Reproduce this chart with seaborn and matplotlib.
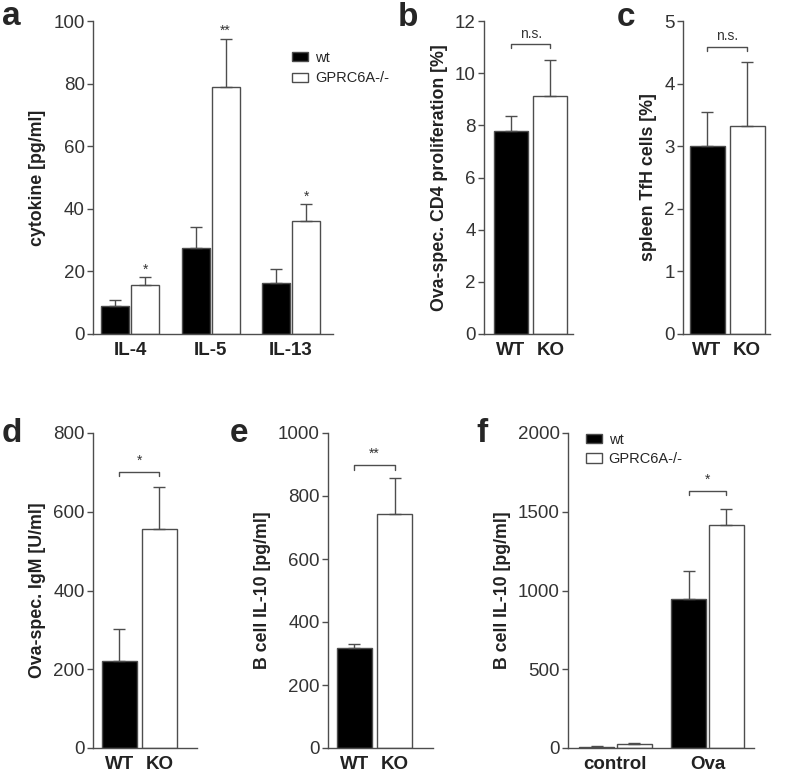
import numpy as np
import pandas as pd
import matplotlib
matplotlib.use("Agg")
import matplotlib.pyplot as plt
import seaborn as sns

# panel a: Th2 cytokines
cyto_names = ["IL-4", "IL-5", "IL-13"]
cyto_wt = [9.1, 27.6, 16.2]
cyto_wt_sem = [1.9, 6.5, 4.6]
cyto_ko = [15.7, 78.9, 36.0]
cyto_ko_sem = [2.5, 15.5, 5.6]
cyto_stars = ["*", "**", "*"]

# panels b-e: WT vs KO
genotypes = ["WT", "KO"]
prolif = [7.78, 9.13]
prolif_sem = [0.57, 1.37]
tfh = [3.01, 3.33]
tfh_sem = [0.54, 1.02]
igm = [221, 555]
igm_sem = [81, 107]
il10 = [319, 744]
il10_sem = [10, 113]

# panel f: B cell IL-10 after stimulation
stim_names = ["control", "Ova"]
bil10_wt = [6, 947]
bil10_wt_sem = [4, 175]
bil10_ko = [25, 1413]
bil10_ko_sem = [5, 107]

group_names = ["wt", "GPRC6A-/-"]

W, H = 787, 781
EDGE = "#4d4d4d"
TXT = "#222222"

sns.set_style("ticks")
plt.rcParams["font.family"] = ["Liberation Sans", "DejaVu Sans"]

fig = plt.figure(figsize=(W / 100, H / 100), dpi=100)


def px_axes(left, top, right, bottom):
    return fig.add_axes([left / W, 1 - bottom / H, (right - left) / W, (bottom - top) / H])


def style_axis(ax, ymax, step, ylabel, xlim, xnames):
    ax.set_xlim(*xlim)
    ax.set_ylim(0, ymax)
    ax.set_yticks(np.arange(0, ymax + step / 2, step))
    ax.set_xticks(range(len(xnames)))
    ax.set_xticklabels(xnames, fontweight="bold", fontsize=13.5, color=TXT)
    ax.set_xlabel("")
    ax.set_ylabel(ylabel, fontsize=12.8, fontweight="bold", labelpad=5, color=TXT)
    sns.despine(ax=ax)
    for s in ("left", "bottom"):
        ax.spines[s].set_color(EDGE)
        ax.spines[s].set_linewidth(1)
    ax.tick_params(axis="y", length=4, width=1, color=EDGE, labelsize=13.5, pad=2, labelcolor="#333333")
    ax.tick_params(axis="x", length=0, pad=6)


def bar_list(ax):
    bars = [p for c in ax.containers for p in c]
    return sorted(bars, key=lambda p: p.get_x())


def add_errors(ax, bars, sems):
    xs = [p.get_x() + p.get_width() / 2 for p in bars]
    ys = [p.get_height() for p in bars]
    ax.errorbar(xs, ys, yerr=[np.zeros(len(sems)), sems], fmt="none", ecolor=EDGE,
                elinewidth=1, capsize=4, capthick=1, zorder=3)


def bracket(ax, b0, b1, y, label, off):
    x0 = b0.get_x() + b0.get_width() / 2
    x1 = b1.get_x() + b1.get_width() / 2
    tick = ax.get_ylim()[1] * 0.013
    ax.plot([x0, x0, x1, x1], [y - tick, y, y, y - tick], color=EDGE, lw=1)
    ax.annotate(label, ((x0 + x1) / 2, y), xytext=(0, off), textcoords="offset points",
                ha="center", va="baseline", fontsize=10, color="#333333")


def two_bar_panel(box, vals, sems, ymax, step, ylabel, xlim, sig, sig_y, width=0.875):
    ax = px_axes(*box)
    df = pd.DataFrame({"genotype": genotypes, "value": vals})
    sns.barplot(data=df, x="genotype", y="value", hue="genotype", order=genotypes,
                hue_order=genotypes, palette=["black", "white"], edgecolor=EDGE,
                linewidth=1, width=width, errorbar=None, legend=False, ax=ax)
    bars = bar_list(ax)
    add_errors(ax, bars, sems)
    style_axis(ax, ymax, step, ylabel, xlim, genotypes)
    off = 4.5 if sig == "n.s." else 5.5
    bracket(ax, bars[0], bars[1], sig_y, sig, off)
    return ax


# ---- panel a
ax = px_axes(93, 21, 333, 334)
df_a = pd.DataFrame({"cytokine": cyto_names * 2,
                     "group": [group_names[0]] * 3 + [group_names[1]] * 3,
                     "value": cyto_wt + cyto_ko})
sns.barplot(data=df_a, x="cytokine", y="value", hue="group", order=cyto_names,
            hue_order=group_names, palette=["black", "white"], edgecolor=EDGE,
            linewidth=1, width=0.745, gap=0.07, errorbar=None, ax=ax)
bars = bar_list(ax)
sems = [s for pair in zip(cyto_wt_sem, cyto_ko_sem) for s in pair]
add_errors(ax, bars, sems)
style_axis(ax, 100, 20, "cytokine [pg/ml]", (-0.46, 2.52), cyto_names)
for i, star in enumerate(cyto_stars):
    b = bars[2 * i + 1]
    ax.annotate(star, (b.get_x() + b.get_width() / 2, cyto_ko[i] + cyto_ko_sem[i]),
                xytext=(0, 2.5), textcoords="offset points", ha="center",
                va="baseline", fontsize=10, color="#333333")
sns.move_legend(ax, "upper left", bbox_to_anchor=(0.83, 0.905), frameon=False, title=None,
                fontsize=10.5, borderpad=0, borderaxespad=0, handlelength=1.1,
                handleheight=0.6, handletextpad=0.45, labelspacing=0.45)

# ---- panels b-e
two_bar_panel((484, 21, 573, 334), prolif, prolif_sem, 12, 2,
              "Ova-spec. CD4 proliferation [%]", (-0.68, 1.57), "n.s.", 11.12, width=0.86)
two_bar_panel((683, 21, 770, 334), tfh, tfh_sem, 5, 1,
              "spleen TfH cells [%]", (-0.6, 1.575), "n.s.", 4.59)
two_bar_panel((93, 433, 197, 748), igm, igm_sem, 800, 200,
              "Ova-spec. IgM [U/ml]", (-0.66, 1.94), "*", 701)
two_bar_panel((328, 433, 433, 748), il10, il10_sem, 1000, 200,
              "B cell IL-10 [pg/ml]", (-0.66, 1.96), "**", 897)

# ---- panel f
ax = px_axes(568, 433, 754, 748)
df_f = pd.DataFrame({"stim": stim_names * 2,
                     "group": [group_names[0]] * 2 + [group_names[1]] * 2,
                     "value": bil10_wt + bil10_ko})
sns.barplot(data=df_f, x="stim", y="value", hue="group", order=stim_names,
            hue_order=group_names, palette=["black", "white"], edgecolor=EDGE,
            linewidth=1, width=0.815, gap=0.067, errorbar=None, ax=ax)
bars = bar_list(ax)
sems = [s for pair in zip(bil10_wt_sem, bil10_ko_sem) for s in pair]
add_errors(ax, bars, sems)
style_axis(ax, 2000, 500, "B cell IL-10 [pg/ml]", (-0.516, 1.505), stim_names)
bracket(ax, bars[2], bars[3], 1632, "*", 5.5)
sns.move_legend(ax, "upper left", bbox_to_anchor=(0.097, 1.0), frameon=False, title=None,
                fontsize=10.5, borderpad=0, borderaxespad=0, handlelength=1.1,
                handleheight=0.6, handletextpad=0.45, labelspacing=0.35)

# panel letters
for letter, x, y in [("a", 2, 25), ("b", 398, 26), ("c", 617, 26),
                     ("d", 2, 442), ("e", 230, 442), ("f", 476, 442)]:
    fig.text(x / W, 1 - y / H, letter, fontsize=24, fontweight="bold", va="baseline", ha="left")

fig.savefig("out.png", dpi=100)
